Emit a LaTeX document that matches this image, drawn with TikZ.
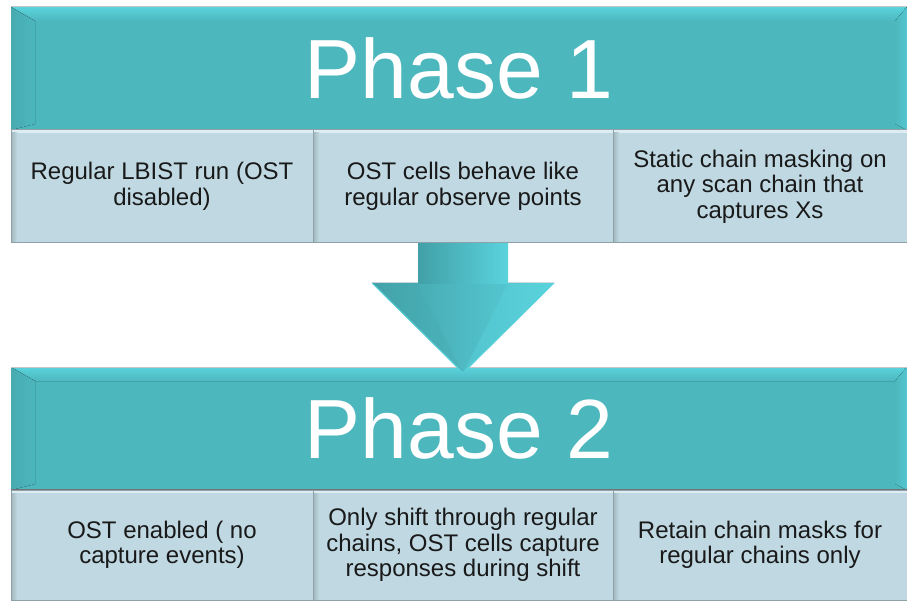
\documentclass[tikz,border=0pt]{standalone}
\usepackage{fontspec}
\setmainfont{Liberation Sans}
\usetikzlibrary{calc}

\definecolor{teal0}{HTML}{4DB7BE}
\definecolor{tealhi}{HTML}{5AD3DD}
\definecolor{tealdk}{HTML}{42A0A7}
\definecolor{tealsoft}{HTML}{47AAB1}
\definecolor{tealrim}{HTML}{54C7D0}
\definecolor{cellfill}{HTML}{BFD8E2}
\definecolor{cellline}{HTML}{8EA0A8}
\definecolor{cellhi}{HTML}{DDEDF3}
\definecolor{cellsh}{HTML}{A3B6BE}

\tikzset{
  phase/.style={rectangle, inner sep=0pt, outer sep=0pt, fill=teal0,
    minimum width=896pt, minimum height=123pt, text=white,
    font=\fontsize{84}{90}\selectfont},
  cell/.style={rectangle, inner sep=0pt, outer sep=0pt, fill=cellfill,
    minimum height=113pt, align=center, text=black!90,
    font=\fontsize{24}{25.5}\selectfont},
  arrowface/.style={left color=tealdk, middle color=teal0, right color=tealhi},
}

% raised edges of a phase banner
\newcommand\phasebevel[1]{%
  \fill[top color=tealhi, bottom color=teal0]
    (#1.north west) -- (#1.north east) -- ($(#1.north east)+(-12,14)$)
    -- ($(#1.north west)+(24,14)$) -- cycle;
  \fill[left color=tealsoft, right color=teal0]
    (#1.north west) -- ($(#1.north west)+(24,14)$)
    -- ($(#1.south west)+(24,-6)$) -- (#1.south west) -- cycle;
  \fill[left color=teal0, right color=tealrim]
    (#1.north east) -- ($(#1.north east)+(-12,14)$)
    -- ($(#1.south east)+(-12,-6)$) -- (#1.south east) -- cycle;
  \draw[gray!45, line width=1pt] (#1.north west) -- (#1.north east);
  \draw[black!55, line width=1.2pt] (#1.south west) -- (#1.south east);
}

% raised edges of a text cell
\newcommand\cellbevel[1]{%
  \fill[cellhi] (#1.north west) rectangle ($(#1.north east)+(0,3)$);
  \fill[left color=cellsh, right color=cellfill]
    ($(#1.north west)+(0,3)$) rectangle ($(#1.south west)+(6,0)$);
  \draw[cellline, line width=1pt] (#1.north west) rectangle (#1.south east);
}

\begin{document}
\begin{tikzpicture}[x=1pt, y=-1pt]
  \fill[white] (0,0) rectangle (907,601);
  \useasboundingbox (0,0) rectangle (907,601);

  % Phase 1
  \node[phase] (p1) at (459,68.5) {Phase 1};
  \phasebevel{p1}
  \node[cell, minimum width=302pt] (b11) at (162,186.5)
    {Regular LBIST run (OST\\disabled)};
  \node[cell, minimum width=300pt] (b12) at (463,186.5)
    {OST cells behave like\\regular observe points};
  \node[cell, minimum width=294pt] (b13) at (760,186.5)
    {Static chain masking on\\any scan chain that\\captures Xs};
  \cellbevel{b11}
  \cellbevel{b12}
  \cellbevel{b13}

  % Phase 2
  \node[phase] (p2) at (459,428.5) {Phase 2};
  \phasebevel{p2}
  \node[cell, minimum width=302pt, minimum height=110pt] (b21) at (162,545)
    {OST enabled ( no\\capture events)};
  \node[cell, minimum width=300pt, minimum height=110pt] (b22) at (463,545)
    {Only shift through regular\\chains, OST cells capture\\responses during shift};
  \node[cell, minimum width=294pt, minimum height=110pt] (b23) at (760,545)
    {Retain chain masks for\\regular chains only};
  \cellbevel{b21}
  \cellbevel{b22}
  \cellbevel{b23}

  % block arrow from phase 1 down to phase 2
  \coordinate (st) at (b12.south);
  \coordinate (tip) at ($(p2.north -| st)+(0,6)$);
  \fill[arrowface] ($(st)+(-91,40)$) -- ($(st)+(91,40)$) -- (tip) -- cycle;
  \fill[arrowface] ($(st)+(-45,1)$) rectangle ($(st)+(45,41)$);
  \fill[teal0!92!black, opacity=0.3] ($(st)+(-91,40)$) -- ($(st)+(-45,41)$)
    -- (tip) -- cycle;
  \fill[tealhi, opacity=0.45] ($(st)+(91,40)$) -- ($(st)+(45,41)$)
    -- (tip) -- cycle;
  \draw[tealhi, line width=1pt] ($(st)+(-91,40)$) -- (tip) -- ($(st)+(91,40)$);
\end{tikzpicture}
\end{document}
